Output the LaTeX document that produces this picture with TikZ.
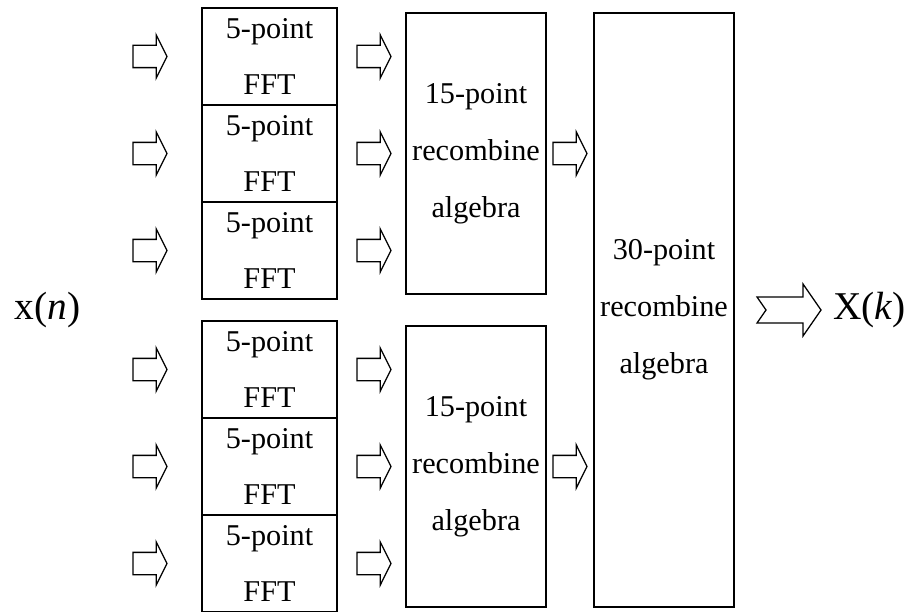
\documentclass[tikz,border=0pt]{standalone}
\usepackage{fontspec}
\setmainfont{Liberation Serif}
\usetikzlibrary{shapes.arrows, positioning}
\tikzstyle{fftbox} = [rectangle, draw=black, line width=1.1pt, minimum width=3.375cm, minimum height=2.425cm, inner sep=0pt, outer sep=0pt, align=center, font=\fontsize{21.5}{40.5}\selectfont]
\tikzstyle{recombox} = [rectangle, draw=black, line width=1.1pt, minimum width=3.5cm, minimum height=7.025cm, inner sep=0pt, outer sep=0pt, align=center, font=\fontsize{21.5}{40.5}\selectfont]
\tikzstyle{flowarrow} = [single arrow, draw=black, line width=0.9pt, minimum height=0.85cm, single arrow head extend=0.2625cm, single arrow tip angle=127, inner xsep=0pt, inner ysep=0.2625cm, outer sep=0pt]
\tikzstyle{sigtext} = [inner sep=0pt, font=\fontsize{28}{33}\selectfont]

\begin{document}
\begin{tikzpicture}

\useasboundingbox (0,0) rectangle (22.7,-15.275);

% 5-point FFT blocks
\node (f1) [fftbox, anchor=north west] at (5.05,-0.2) {5-point\\FFT};
\node (f2) [fftbox, below=0cm of f1] {5-point\\FFT};
\node (f3) [fftbox, below=0cm of f2] {5-point\\FFT};
\node (f4) [fftbox, below=0.55cm of f3] {5-point\\FFT};
\node (f5) [fftbox, below=0cm of f4] {5-point\\FFT};
\node (f6) [fftbox, below=0cm of f5] {5-point\\FFT};

% inputs
\node (i1) [flowarrow, left=0.875cm of f1] {};
\node (i2) [flowarrow, left=0.875cm of f2] {};
\node (i3) [flowarrow, left=0.875cm of f3] {};
\node (i4) [flowarrow, left=0.875cm of f4] {};
\node (i5) [flowarrow, left=0.875cm of f5] {};
\node (i6) [flowarrow, left=0.875cm of f6] {};

\node (xn) [sigtext] at (1.1875,-7.75) {x(\textit{n})};

% FFT outputs
\node (m1) [flowarrow, right=0.5cm of f1] {};
\node (m2) [flowarrow, right=0.5cm of f2] {};
\node (m3) [flowarrow, right=0.5cm of f3] {};
\node (m4) [flowarrow, right=0.5cm of f4] {};
\node (m5) [flowarrow, right=0.5cm of f5] {};
\node (m6) [flowarrow, right=0.5cm of f6] {};

% 15-point stages
\node (r1) [recombox, right=0.375cm of m2] {15-point\\recombine\\algebra};
\node (r2) [recombox, right=0.375cm of m5] {15-point\\recombine\\algebra};

\node (a1) [flowarrow, right=0.175cm of r1] {};
\node (a2) [flowarrow, right=0.175cm of r2] {};

% 30-point stage
\node (big) [recombox, minimum height=14.85cm, right=1.2cm of r1.north east, anchor=north west] {30-point\\recombine\\algebra};

% output, notched tail
\node (otail) [right=0.575cm of big, inner sep=0pt, outer sep=0pt, minimum size=0pt] {};
\node (otip) [right=1.6cm of otail.center, inner sep=0pt, outer sep=0pt, minimum size=0pt] {};
\draw [line width=0.9pt] (otail.center) ++(0,0.325) -- ++(1.15,0) -- ++(0,0.325) -- (otip.center) -- ++(-0.45,-0.65) -- ++(0,0.325) -- ++(-1.15,0) -- ++(0.225,0.325) -- cycle;

\node (xk) [sigtext, right=0.3cm of otip.center] {X(\textit{k})};

\end{tikzpicture}
\end{document}
